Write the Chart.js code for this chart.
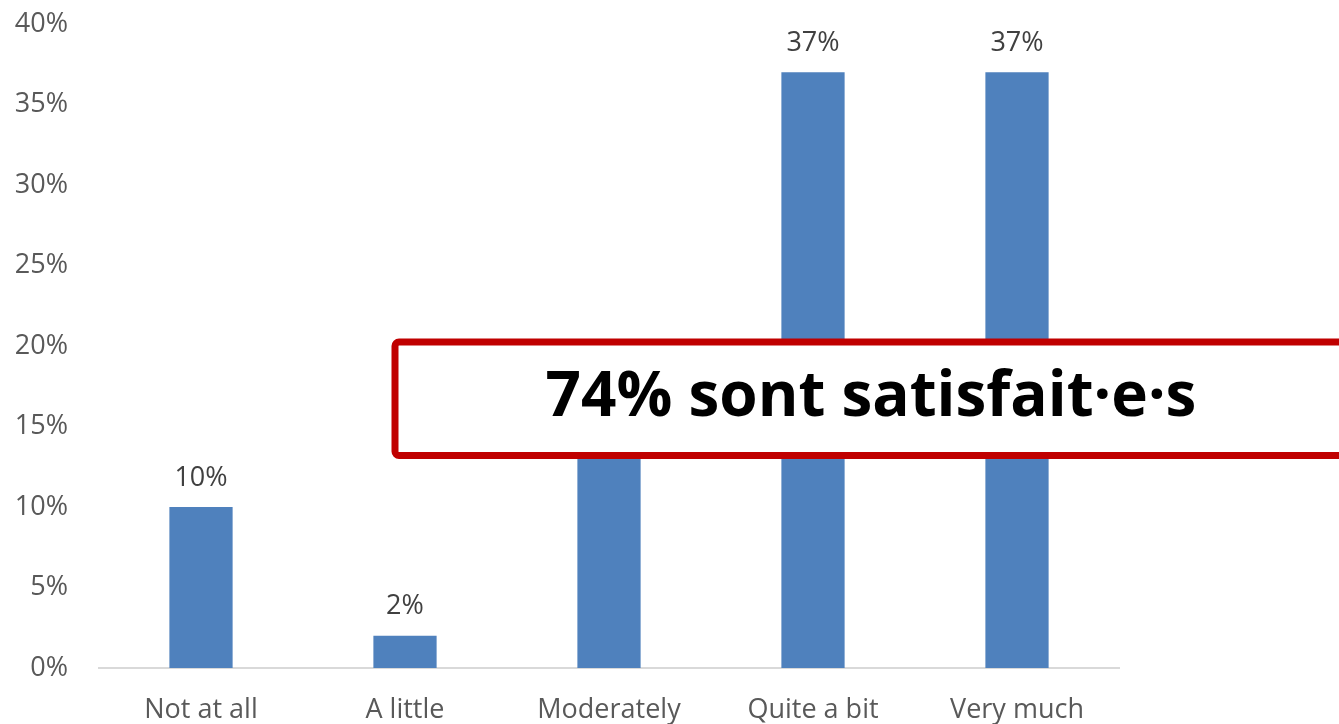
<!DOCTYPE html>
<html>
<head>
<meta charset="utf-8">
<script src="https://cdn.jsdelivr.net/npm/chart.js@4/dist/chart.umd.min.js"></script>
<style>
  html, body { margin: 0; padding: 0; background: #fff; }
  #wrap { width: 1339px; height: 724px; position: relative; }
</style>
</head>
<body>
<div id="wrap"><canvas id="myChart"></canvas></div>
<script>
const categories = ["Not at all", "A little", "Moderately", "Quite a bit", "Very much"];
const shares = [10, 2, 14, 37, 37];
const yTicks = [0, 5, 10, 15, 20, 25, 30, 35, 40];
const calloutText = "74% sont satisfait\u00b7e\u00b7s";

const barColor = "#4F81BD";
const textColor = "#595959";

// value labels above each bar
const barLabels = {
    id: "barLabels",
    afterDatasetsDraw(chart) {
        const ctx = chart.ctx;
        const meta = chart.getDatasetMeta(0);
        ctx.save();
        ctx.font = "27px 'Open Sans'";
        ctx.fillStyle = "#404040";
        ctx.textAlign = "center";
        ctx.textBaseline = "middle";
        meta.data.forEach((bar, i) => {
            ctx.fillText(shares[i] + "%", bar.x, bar.y - 29);
        });
        ctx.restore();
    }
};

// red framed callout laid over the chart
const callout = {
    id: "callout",
    afterDraw(chart) {
        const ctx = chart.ctx;
        const x = chart.scales.x, y = chart.scales.y;
        const left = x.getPixelForValue(1) - 10;
        const top = y.getPixelForValue(20.25);
        const bottom = y.getPixelForValue(13.2);
        const right = chart.width + 20;
        ctx.save();
        ctx.fillStyle = "#fff";
        ctx.strokeStyle = "#C00000";
        ctx.lineWidth = 7;
        ctx.beginPath();
        ctx.roundRect(left, top, right - left, bottom - top, 4);
        ctx.fill();
        ctx.stroke();
        ctx.font = "bold 62px 'Open Sans'";
        ctx.fillStyle = "#000";
        ctx.textAlign = "center";
        ctx.textBaseline = "middle";
        ctx.fillText(calloutText, 871, (top + bottom) / 2);
        ctx.restore();
    }
};

new Chart("myChart", {
    type: "bar",
    data: {
        labels: categories,
        datasets: [{
            data: shares,
            backgroundColor: barColor,
            barPercentage: 0.62,
            categoryPercentage: 0.5
        }]
    },
    options: {
        responsive: true,
        maintainAspectRatio: false,
        animation: false,
        layout: { padding: { top: 24, right: 220, left: 0, bottom: 0 } },
        plugins: { legend: { display: false }, tooltip: { enabled: false } },
        scales: {
            x: {
                grid: { display: false, drawTicks: false },
                border: { color: "#D9D9D9", width: 2 },
                ticks: { color: textColor, font: { family: "'Open Sans'", size: 27 }, padding: 26, maxRotation: 0 },
                afterFit(scale) { scale.height = 56; }
            },
            y: {
                min: 0,
                max: 40,
                afterBuildTicks(scale) { scale.ticks = yTicks.map(v => ({ value: v })); },
                grid: { display: false, drawTicks: false },
                border: { display: false },
                ticks: {
                    color: textColor,
                    font: { family: "'Open Sans'", size: 27 },
                    padding: 31,
                    callback: v => v + "%"
                },
                afterFit(scale) {
                    scale.width = 99;
                    scale.paddingTop = 0;
                    scale.paddingBottom = 0;
                }
            }
        }
    },
    plugins: [barLabels, callout]
});
</script>
</body>
</html>
